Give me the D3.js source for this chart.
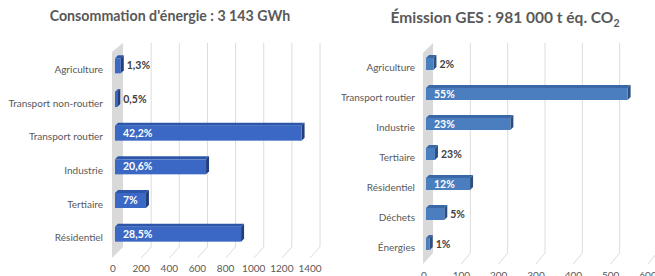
<!DOCTYPE html>
<html>
<head>
<meta charset="utf-8">
<script src="https://cdn.jsdelivr.net/npm/d3@7"></script>
<style>
  body { margin: 0; background: #fff; }
  svg text { font-family: Lato, "Open Sans", sans-serif; }
</style>
</head>
<body>
<div class="chart"></div>
<script>
// data - left chart (energy consumption, GWh)
var energyCats = ["Agriculture", "Transport non-routier", "Transport routier", "Industrie", "Tertiaire", "Résidentiel"];
var energyValues = [41, 16, 1326, 647, 220, 896];
var energyLabels = ["1,3%", "0,5%", "42,2%", "20,6%", "7%", "28,5%"];
var energyTicks = [0, 200, 400, 600, 800, 1000, 1200, 1400];

// data - right chart (GHG emissions, kt CO2 eq)
var gesCats = ["Agriculture", "Transport routier", "Industrie", "Tertiaire", "Résidentiel", "Déchets", "Énergies"];
var gesValues = [20, 540, 226, 24, 118, 49, 10];
var gesLabels = ["2%", "55%", "23%", "23%", "12%", "5%", "1%"];
var gesTicks = [0, 100, 200, 300, 400, 500, 600];

var svg = d3.select(".chart").append("svg")
  .attr("width", 655)
  .attr("height", 276);

function drawChart(cfg) {
  var g = svg.append("g");

  var x = d3.scaleLinear()
    .domain([0, cfg.max])
    .range([cfg.x0, cfg.x1]);

  var y = d3.scaleBand()
    .domain(cfg.cats)
    .range([cfg.yTop, cfg.yBottom]);

  var dx = cfg.dx, dy = cfg.dy;

  // side wall
  g.append("polygon")
    .attr("points", [
      [x(0) - 1, cfg.gridTop - dy],
      [x(0) + dx, cfg.gridTop],
      [x(0) + dx, cfg.floorBack],
      [x(0) - 1, cfg.floorFront]
    ].join(" "))
    .attr("fill", "#d9d9d9");

  // gridlines + floor diagonals
  cfg.ticks.forEach(function (t) {
    if (t === 0) return;
    g.append("line")
      .attr("x1", x(t) + dx).attr("x2", x(t) + dx)
      .attr("y1", cfg.gridTop).attr("y2", cfg.floorBack)
      .attr("stroke", "#dcdcdc").attr("stroke-width", 1);
    g.append("line")
      .attr("x1", x(t) + dx).attr("y1", cfg.floorBack)
      .attr("x2", x(t)).attr("y2", cfg.floorFront)
      .attr("stroke", "#dcdcdc").attr("stroke-width", 1);
  });

  // tick labels
  g.selectAll(".tick-label")
    .data(cfg.ticks)
    .enter()
    .append("text")
    .attr("x", d => x(d))
    .attr("y", cfg.tickY)
    .attr("text-anchor", "middle")
    .attr("font-size", 10)
    .attr("fill", "#595959")
    .text(d => d);

  // category labels
  g.selectAll(".cat-label")
    .data(cfg.cats)
    .enter()
    .append("text")
    .attr("x", cfg.labelX)
    .attr("y", d => y(d) + y.bandwidth() / 2 + 7)
    .attr("text-anchor", "end")
    .attr("font-size", 10)
    .attr("fill", "#595959")
    .text(d => d);

  // bars
  var bh = cfg.barH;
  var bd = cfg.barDepth;
  cfg.values.forEach(function (v, i) {
    var c = cfg.cats[i];
    var yb = y(c) + (y.bandwidth() - bh) / 2;
    var xa = x(0) + 2, xb = x(v) + 2;
    // top face
    g.append("polygon")
      .attr("points", [[xa, yb], [xa + bd, yb - bd], [xb + bd, yb - bd], [xb, yb]].join(" "))
      .attr("fill", cfg.topColor);
    // side face
    g.append("polygon")
      .attr("points", [[xb, yb], [xb + bd, yb - bd], [xb + bd, yb + bh - bd], [xb, yb + bh]].join(" "))
      .attr("fill", cfg.sideColor);
    // front face
    g.append("rect")
      .attr("x", xa)
      .attr("y", yb)
      .attr("width", Math.max(1, xb - xa))
      .attr("height", bh)
      .attr("fill", cfg.barColor);

    var inside = (xb - xa) > 25;
    g.append("text")
      .attr("x", inside ? xa + 8 : xb + bd + 3)
      .attr("y", yb + bh / 2 + 3.5)
      .attr("font-size", 10.5)
      .attr("font-weight", "bold")
      .attr("fill", inside ? "#ffffff" : "#404040")
      .text(cfg.labels[i]);
  });

  // title
  var title = g.append("text")
    .attr("x", cfg.titleX)
    .attr("y", cfg.titleY)
    .attr("text-anchor", "middle")
    .attr("font-size", cfg.titleSize)
    .attr("font-weight", "bold")
    .attr("fill", "#595959");
  cfg.title(title);
}

drawChart({
  cats: energyCats, values: energyValues, labels: energyLabels, ticks: energyTicks,
  max: 1400, x0: 113, x1: 310,
  yTop: 49, yBottom: 251,
  gridTop: 43, floorBack: 247, floorFront: 258,
  dx: 10, dy: -9,
  tickY: 272, labelX: 103,
  barH: 15, barDepth: 3,
  barColor: "#3b68c4", topColor: "#2d56a8", sideColor: "#233f7a",
  titleX: 170, titleY: 21, titleSize: 14.2,
  title: function (t) { t.text("Consommation d'énergie : 3 143 GWh"); }
});

drawChart({
  cats: gesCats, values: gesValues, labels: gesLabels, ticks: gesTicks,
  max: 600, x0: 424, x1: 648,
  yTop: 49, yBottom: 259,
  gridTop: 43, floorBack: 253, floorFront: 264,
  dx: 9, dy: -10,
  tickY: 279, labelX: 415,
  barH: 12, barDepth: 3,
  barColor: "#4a7ebe", topColor: "#3a68a6", sideColor: "#2c4f80",
  titleX: 505, titleY: 23, titleSize: 15.5,
  title: function (t) {
    t.append("tspan").text("Émission GES : 981 000 t éq. CO");
    t.append("tspan").attr("font-size", 10.5).attr("dy", 4).text("2");
  }
});
</script>
</body>
</html>
